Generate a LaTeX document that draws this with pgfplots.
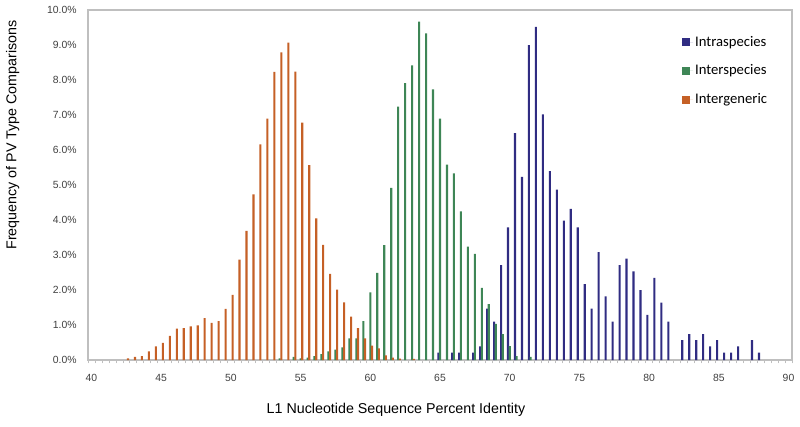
\documentclass[border=0pt]{standalone}
\usepackage{pgfplots}
\pgfplotsset{compat=1.18}
\usepackage{fontspec}
\setmainfont{Liberation Sans}
\newfontfamily\calibri{Carlito}
\definecolor{cblue}{RGB}{48,44,130}
\definecolor{cgreen}{RGB}{62,134,86}
\definecolor{corange}{RGB}{197,96,38}
\definecolor{frame}{RGB}{191,191,191}
\definecolor{ticktext}{RGB}{64,64,64}
\begin{document}
\begin{tikzpicture}
\path[use as bounding box] (-66pt,-49.5pt) rectangle (534pt,270pt);
\begin{axis}[
  scale only axis,
  width=528pt, height=262.5pt,
  xmin=39.75, xmax=90.25,
  ymin=0, ymax=10,
  axis line style={draw=frame, line width=0.9pt},
  xtick={40,45,...,90},
  minor xtick={39.75,40.25,...,90.25},
  major tick length=0pt,
  minor tick length=2.6pt,
  tick align=outside,
  tick pos=left,
  minor tick style={draw=frame, line width=0.5pt},
  ytick={0,1,...,10},
  yticklabel={\pgfmathprintnumber[fixed,fixed zerofill,precision=1]{\tick}\%},
  /pgf/number format/assume math mode=true,
  ticklabel style={font=\fontsize{7.8}{9}\selectfont, text=ticktext},
  xticklabel style={yshift=-7.5pt},
  yticklabel style={xshift=-5pt},
  xlabel={L1 Nucleotide Sequence Percent Identity},
  ylabel={Frequency of PV Type Comparisons},
  label style={font=\fontsize{10.7}{12}\selectfont},
  xlabel style={at={(axis description cs:0.4375,-0.143)}, anchor=center},
  ylabel style={at={(axis description cs:-0.107,0.643)}, anchor=center, rotate=0},
  legend style={at={(rel axis cs:0.843,0.932)}, anchor=north west, draw=none, fill=none,
    inner sep=0pt, row sep=9.5pt, font=\calibri\fontsize{11}{12}\selectfont,
    nodes={inner sep=1.5pt}},
  legend cell align=left,
  clip=false,
]
\addplot[ybar, bar width=0.15, bar shift=-0.12, fill=cblue, draw=none,
  legend image code/.code={\fill[cblue] (0pt,-3pt) rectangle (6pt,3pt); \path (0pt,0pt) -- (8.5pt,0pt);}]
  coordinates {
(65,0.21) (66,0.21) (66.5,0.21) (67.5,0.21) (68,0.39) (68.5,1.47) (69,1.10)
(69.5,2.71) (70,3.79) (70.5,6.48) (71,5.23) (71.5,9.00) (72,9.52) (72.5,7.02)
(73,5.40) (73.5,4.87) (74,3.98) (74.5,4.32) (75,3.79) (75.5,2.17) (76,1.47)
(76.5,3.08) (77,1.82) (77.5,1.10) (78,2.71) (78.5,2.90) (79,2.53) (79.5,2.00)
(80,1.29) (80.5,2.35) (81,1.64) (81.5,1.10) (82.5,0.57) (83,0.74) (83.5,0.57)
(84,0.74) (84.5,0.39) (85,0.57) (85.5,0.21) (86,0.21) (86.5,0.39) (87.5,0.57)
(88,0.21)
};
\addlegendentry{Intraspecies}
\addplot[ybar, bar width=0.15, bar shift=0, fill=cgreen, draw=none,
  legend image code/.code={\fill[cgreen] (0pt,-3pt) rectangle (6pt,3pt); \path (0pt,0pt) -- (8.5pt,0pt);}]
  coordinates {
(53.5,0.05) (54.5,0.09) (55,0.05) (55.5,0.07) (56,0.11) (56.5,0.17) (57,0.25)
(57.5,0.30) (58,0.36) (58.5,0.62) (59,0.62) (59.5,1.11) (60,1.93) (60.5,2.49)
(61,3.28) (61.5,4.92) (62,7.24) (62.5,7.91) (63,8.42) (63.5,9.67) (64,9.33)
(64.5,7.73) (65,6.90) (65.5,5.58) (66,5.33) (66.5,4.25) (67,3.24) (67.5,3.03)
(68,2.06) (68.5,1.60) (69,1.03) (69.5,0.74) (70,0.40) (70.5,0.11) (71.5,0.09)
};
\addlegendentry{Interspecies}
\addplot[ybar, bar width=0.15, bar shift=0.12, fill=corange, draw=none,
  legend image code/.code={\fill[corange] (0pt,-3pt) rectangle (6pt,3pt); \path (0pt,0pt) -- (8.5pt,0pt);}]
  coordinates {
(42.5,0.05) (43,0.09) (43.5,0.11) (44,0.25) (44.5,0.39) (45,0.49) (45.5,0.69)
(46,0.90) (46.5,0.91) (47,0.96) (47.5,0.99) (48,1.20) (48.5,1.06) (49,1.11)
(49.5,1.46) (50,1.86) (50.5,2.87) (51,3.69) (51.5,4.73) (52,6.16) (52.5,6.90)
(53,8.23) (53.5,8.79) (54,9.07) (54.5,8.24) (55,6.78) (55.5,5.57) (56,4.05)
(56.5,3.29) (57,2.46) (57.5,2.01) (58,1.65) (58.5,1.24) (59,0.91) (59.5,0.62)
(60,0.41) (60.5,0.33) (61,0.13) (61.5,0.07) (62,0.04) (63,0.03)
};
\addlegendentry{Intergeneric}
\end{axis}
\end{tikzpicture}
\end{document}
